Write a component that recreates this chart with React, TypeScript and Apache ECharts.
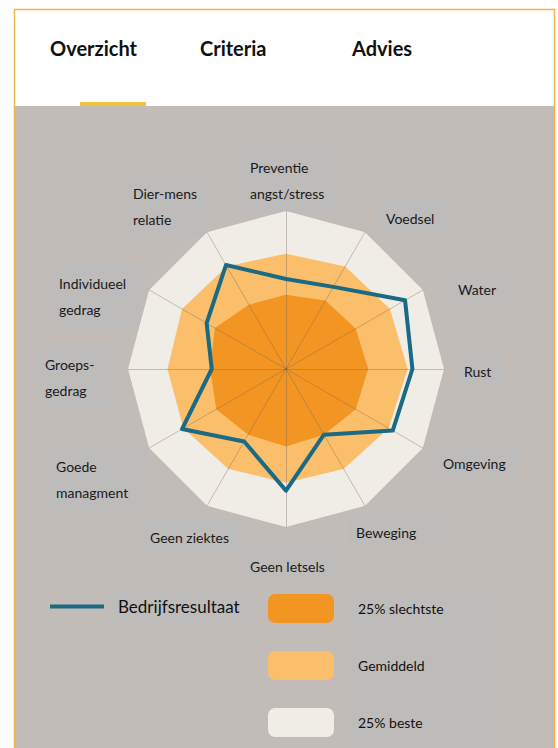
import React, { useEffect, useRef } from "react";
import * as echarts from "echarts";

// Radar axes, counter-clockwise from the top (ECharts radar order)
const categories = [
  "Preventie\nangst/stress",
  "Dier-mens\nrelatie",
  "Individueel\ngedrag",
  "Groeps-\ngedrag",
  "Goede\nmanagment",
  "Geen ziektes",
  "Geen letsels",
  "Beweging",
  "Omgeving",
  "Rust",
  "Water",
  "Voedsel",
];
const bedrijfsresultaat = [57, 76, 58, 47, 76, 53, 77, 48, 78, 80, 87, 60];
const gemiddeld = [73, 75, 76, 75, 75, 73, 72, 73, 75, 77, 76, 75];
const slechtste = [47, 47, 52, 48, 51, 48, 49, 48, 51, 52, 51, 50];
const beste = [100, 100, 100, 100, 100, 100, 100, 100, 100, 100, 100, 100];
const tabs = ["Overzicht", "Criteria", "Advies"];
const lineLegend = ["Bedrijfsresultaat"];
const bandLegend = ["25% slechtste", "Gemiddeld", "25% beste"];

// layout of the axis label boxes (same order as categories)
const labelLayout = [
  { x: 241, y: 148, w: 98, h: 65, tx: 250, ty: 180 },
  { x: 125, y: 174, w: 83, h: 64, tx: 133, ty: 206 },
  { x: 51, y: 263, w: 91, h: 64, tx: 59, ty: 296 },
  { x: 38, y: 345, w: 76, h: 64, tx: 45, ty: 377 },
  { x: 48, y: 447, w: 99, h: 65, tx: 56, ty: 479 },
  { x: 142, y: 519, w: 99, h: 32, tx: 150, ty: 537 },
  { x: 241, y: 548, w: 98, h: 32, tx: 250, ty: 566 },
  { x: 348, y: 514, w: 99, h: 34, tx: 356, ty: 532 },
  { x: 435, y: 446, w: 84, h: 32, tx: 443, ty: 463 },
  { x: 457, y: 354, w: 46, h: 32, tx: 464, ty: 371 },
  { x: 450, y: 272, w: 61, h: 32, tx: 458, ty: 289 },
  { x: 378, y: 200, w: 69, h: 33, tx: 386, ty: 218 },
];
const tabX = [50, 200, 352];

const COL_BG = "#c1bcb7";
const COL_BOX = "#bdbcbb";
const COL_BEST = "#f0ede7";
const COL_AVG = "#fbbf6b";
const COL_WORST = "#f39522";
const COL_LINE = "#1b6a83";
const FONT = "Lato, 'Open Sans', sans-serif";

export default function App() {
  const ref = useRef<HTMLDivElement>(null);
  useEffect(() => {
    if (!ref.current) return;
    const chart = echarts.init(ref.current, null, { renderer: "svg" });
    const graphics: any[] = [
      { type: "rect", shape: { x: 14, y: 106, width: 541, height: 642 }, style: { fill: COL_BG } },
      { type: "rect", shape: { x: 14, y: 9, width: 541, height: 97 }, style: { fill: "#ffffff" } },
      {
        type: "polyline",
        shape: { points: [[14.5, 748], [14.5, 9.5], [554.5, 9.5], [554.5, 748]] },
        style: { stroke: "#f0b54e", lineWidth: 1.5, fill: null },
      },
      { type: "rect", shape: { x: 80, y: 102, width: 66, height: 4 }, style: { fill: "#f2c142" } },
      ...tabs.map((t, i) => ({
        type: "text",
        x: tabX[i],
        y: 48,
        style: { text: t, font: `bold 20px ${FONT}`, fill: "#111", verticalAlign: "middle" },
      })),
      ...categories.map((c, i) => {
        const l = labelLayout[i];
        return {
          type: "group",
          children: [
            { type: "rect", shape: { x: l.x, y: l.y, width: l.w, height: l.h }, style: { fill: COL_BOX } },
            {
              type: "text",
              x: l.tx,
              y: l.ty,
              style: {
                text: c,
                font: `14px ${FONT}`,
                fill: "#1a1a1a",
                verticalAlign: "middle",
                lineHeight: 26,
              },
            },
          ],
        };
      }),
      { type: "rect", shape: { x: 110, y: 588, width: 144, height: 40 }, style: { fill: COL_BOX } },
      { type: "rect", shape: { x: 350, y: 591, width: 144, height: 157 }, style: { fill: COL_BOX } },
    ];

    chart.setOption({
      animation: false,
      backgroundColor: "#ffffff",
      graphic: { elements: graphics },
      legend: [
        {
          data: lineLegend.map((n) => ({ name: n, icon: "rect" })),
          left: 50,
          top: 598,
          padding: 0,
          itemWidth: 54,
          itemHeight: 4,
          selectedMode: false,
          textStyle: { fontFamily: FONT, fontSize: 17, color: "#111", padding: [0, 0, 0, 9] },
        },
        {
          data: bandLegend,
          orient: "vertical",
          left: 268,
          top: 594,
          padding: 0,
          itemWidth: 66,
          itemHeight: 29,
          itemGap: 28,
          icon: "roundRect",
          selectedMode: false,
          textStyle: { fontFamily: FONT, fontSize: 14, color: "#111", padding: [5, 0, 0, 19] },
        },
      ],
      radar: {
        center: [286, 369],
        radius: 158,
        startAngle: 90,
        shape: "polygon",
        splitNumber: 1,
        z: 3,
        indicator: categories.map((name) => ({ name, min: 0, max: 100 })),
        axisName: { show: false },
        splitLine: { show: false },
        splitArea: { show: false },
        axisLine: { lineStyle: { color: "rgba(105,95,85,0.35)", width: 1 } },
      },
      series: [
        {
          type: "radar",
          z: 1,
          symbol: "none",
          silent: true,
          data: [
            {
              name: "25% beste",
              value: beste,
              itemStyle: { color: COL_BEST },
              lineStyle: { width: 0, opacity: 0 },
              areaStyle: { color: COL_BEST, opacity: 1 },
            },
            {
              name: "Gemiddeld",
              value: gemiddeld,
              itemStyle: { color: COL_AVG },
              lineStyle: { width: 0, opacity: 0 },
              areaStyle: { color: COL_AVG, opacity: 1 },
            },
            {
              name: "25% slechtste",
              value: slechtste,
              itemStyle: { color: COL_WORST },
              lineStyle: { width: 0, opacity: 0 },
              areaStyle: { color: COL_WORST, opacity: 1 },
            },
          ],
        },
        {
          type: "radar",
          z: 5,
          symbol: "none",
          silent: true,
          data: [
            {
              name: "Bedrijfsresultaat",
              value: bedrijfsresultaat,
              itemStyle: { color: COL_LINE },
              lineStyle: { width: 4, color: COL_LINE },
            },
          ],
        },
      ],
    });
    return () => chart.dispose();
  }, []);
  return (
    <div
      ref={ref}
      style={{ position: "absolute", left: 0, top: 0, width: 558, height: 748 }}
    />
  );
}
